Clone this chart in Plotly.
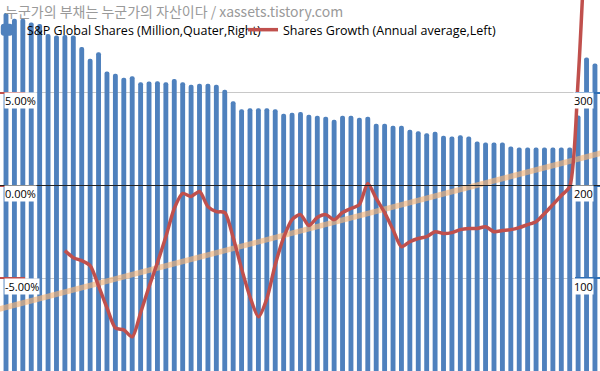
import plotly.graph_objects as go

# ---------------- data ----------------
quarter_index = list(range(71))

shares_million = [
    385.9, 379.8, 379.8, 375.8, 374.2, 363.4, 361.8, 362.3, 361.8, 349.2,
    336.7, 343.8, 323.0, 320.5, 316.2, 317.9, 311.4, 312.2, 312.5, 311.4,
    314.7, 311.4, 308.6, 309.7, 309.7, 308.6, 303.2, 290.9, 282.3, 283.4,
    283.4, 283.4, 282.3, 277.3, 278.4, 279.3, 276.3, 275.2, 274.1, 270.9,
    275.2, 275.2, 273.0, 274.1, 266.6, 266.6, 264.4, 264.4, 260.1, 258.6,
    256.4, 257.9, 253.6, 252.9, 254.3, 252.9, 247.5, 246.4, 246.4, 246.4,
    242.1, 241.0, 241.0, 241.0, 241.0, 241.0, 241.0, 241.0, 275.5, 338.0,
    331.6,
]

growth_pct = [
    None, None, None, None, None, None, None,
    -3.51, -3.89, -4.05, -4.32, -5.41, -6.59, -7.68, -7.78, -8.16, -6.86,
    -5.46, -4.16, -2.76, -1.24, -0.43, -0.59, -0.32, -1.14, -1.41, -1.46,
    -2.81, -4.49, -6.00, -7.08, -6.11, -4.27, -2.81, -1.84, -1.57, -2.16,
    -1.73, -1.57, -1.84, -1.46, -1.24, -1.03, 0.11, -0.70, -1.46, -2.38,
    -3.30, -3.03, -2.86, -2.76, -2.49, -2.59, -2.54, -2.38, -2.32, -2.32,
    -2.22, -2.49, -2.43, -2.38, -2.27, -2.11, -1.95, -1.51, -1.03, -0.54,
    -0.05, 5.68, 14.9, None,
]

trend_index = [-1, 71]
trend_pct = [-6.68, 1.78]

left_ticks = [5, 0, -5]
left_tick_labels = ["5.00%", "0.00%", "-5.00%"]
right_ticks = [300, 200, 100]
right_tick_labels = ["300", "200", "100"]

bar_name = "S&P Global Shares (Million,Quater,Right)"
line_name = "Shares Growth (Annual average,Left)"
watermark = "누군가의 부채는 누군가의 자산이다 / xassets.tistory.com"

BLUE = "#4F81BD"
RED = "#C0504D"
FONT = "Open Sans"

fig = go.Figure()

# bars on the base (right-side) axis so that the lines overlay them
fig.add_trace(go.Bar(
    x=quarter_index, y=shares_million, name=bar_name, yaxis="y",
    legend="legend",
    marker=dict(color=BLUE, line=dict(width=0), cornerradius=3),
))
fig.add_trace(go.Scatter(
    x=trend_index, y=trend_pct, mode="lines", showlegend=False, yaxis="y2",
    line=dict(color="rgba(245,180,120,0.65)", width=5.5), hoverinfo="skip",
))
fig.add_trace(go.Scatter(
    x=quarter_index, y=growth_pct, mode="lines", name=line_name, yaxis="y2",
    legend="legend2",
    line=dict(color=RED, width=3.5, shape="spline", smoothing=0.7),
))

annotations = []
for v, t in zip(left_ticks, left_tick_labels):
    annotations.append(dict(
        x=0, xref="paper", y=v, yref="y2", text=t, showarrow=False,
        xanchor="left", yanchor="middle", xshift=4, yshift=-8,
        bgcolor="white", borderpad=0, font=dict(family=FONT, size=11, color="black"),
    ))
for v, t in zip(right_ticks, right_tick_labels):
    annotations.append(dict(
        x=1, xref="paper", y=v, yref="y", text=t, showarrow=False,
        xanchor="right", yanchor="middle", xshift=-6, yshift=-8,
        bgcolor="white", borderpad=0, font=dict(family=FONT, size=11, color="black"),
    ))
annotations.append(dict(
    x=0, xref="paper", y=1, yref="paper", text=watermark, showarrow=False,
    xanchor="left", yanchor="top", xshift=3, yshift=1,
    font=dict(family="Noto Sans CJK KR", size=14, color="#9a9a9a"),
))

legend_common = dict(
    orientation="h", yanchor="middle", y=0.919, xanchor="left",
    bgcolor="rgba(0,0,0,0)", borderwidth=0,
    font=dict(family=FONT, size=12.5, color="black"),
)

fig.update_layout(
    width=600, height=371,
    margin=dict(l=0, r=0, t=0, b=0, pad=0, autoexpand=False),
    paper_bgcolor="white", plot_bgcolor="white",
    bargap=0.42,
    showlegend=True,
    legend=dict(x=-0.022, **legend_common),
    legend2=dict(x=0.405, **legend_common),
    xaxis=dict(range=[-0.713, 70.6], visible=False),
    yaxis=dict(
        range=[0, 400], tick0=0, dtick=100, side="right",
        showgrid=True, gridcolor="#c8c8c8", gridwidth=1,
        zeroline=False, ticks="inside", ticklen=25, tickwidth=2,
        tickcolor="#2f6fb5", showticklabels=False, showline=False,
    ),
    yaxis2=dict(
        range=[-10, 10], tick0=0, dtick=5, overlaying="y", side="left",
        showgrid=False, zeroline=False, ticks="inside", ticklen=25, tickwidth=2,
        tickcolor=RED, showticklabels=False, showline=False,
    ),
    annotations=annotations,
    shapes=[dict(
        type="line", xref="paper", x0=0, x1=1, yref="y2", y0=0, y1=0,
        line=dict(color="#222222", width=1), layer="above",
    )],
)

fig.write_html(
    "out.html",
    config={"displayModeBar": False},
    post_script="document.body.style.margin='0';",
)
